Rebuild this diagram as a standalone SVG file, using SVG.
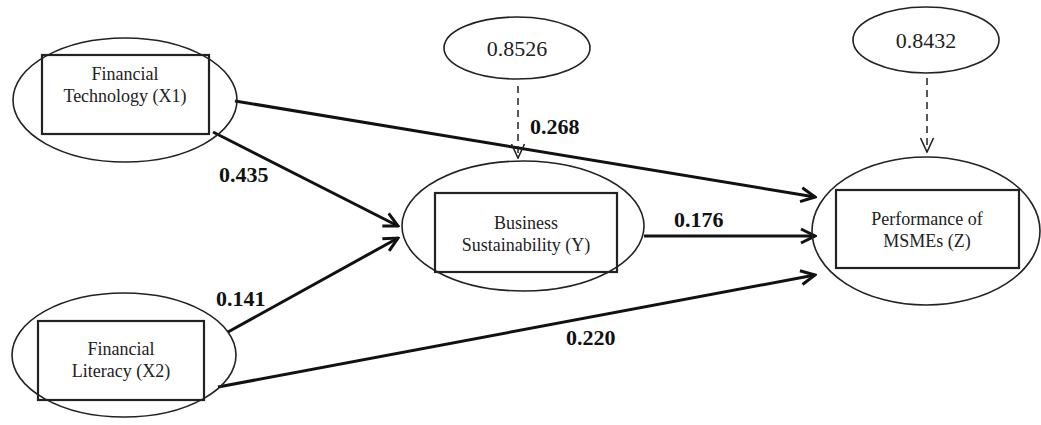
<svg xmlns="http://www.w3.org/2000/svg" width="1041" height="425" viewBox="0 0 1041 425">
<style>
.oval{fill:none;stroke:#222;stroke-width:1.6}
.box{fill:none;stroke:#222;stroke-width:2.2}
.t{font-family:"Liberation Serif",serif;font-size:18px;fill:#222;text-anchor:middle}
.e{font-family:"Liberation Serif",serif;font-size:22px;fill:#222;text-anchor:middle}
.w{font-family:"Liberation Serif",serif;font-size:22px;font-weight:bold;fill:#111}
.path{stroke:#111;stroke-width:3;fill:none;marker-end:url(#ah)}
.err{stroke:#222;stroke-width:1.5;fill:none;stroke-dasharray:7 5;marker-end:url(#ahd)}
</style>
<defs>
<marker id="ah" markerUnits="userSpaceOnUse" markerWidth="18" markerHeight="18" viewBox="0 0 18 18" refX="16" refY="9" orient="auto">
<path d="M2,2 L16,9 L2,16" fill="none" stroke="#111" stroke-width="3"/>
</marker>
<marker id="ahd" markerUnits="userSpaceOnUse" markerWidth="16" markerHeight="16" viewBox="0 0 16 16" refX="15" refY="8" orient="auto">
<path d="M1,1.5 L15,8 L1,14.5" fill="none" stroke="#222" stroke-width="1.6"/>
</marker>
</defs>
<g id="connectors">
<line class="path" x1="235" y1="101" x2="815" y2="197"/>
<line class="path" x1="213" y1="132" x2="398" y2="226"/>
<line class="path" x1="228" y1="332" x2="398" y2="238"/>
<line class="path" x1="218" y1="387" x2="815" y2="275"/>
<line class="path" x1="644" y1="236" x2="815" y2="236"/>
<line class="err" x1="518" y1="86" x2="518" y2="158"/>
<line class="err" x1="927" y1="78" x2="927" y2="152"/>
<text class="w" x="530" y="134">0.268</text>
<text class="w" x="219" y="182">0.435</text>
<text class="w" x="216" y="306">0.141</text>
<text class="w" x="674" y="227">0.176</text>
<text class="w" x="566" y="345">0.220</text>
</g>
<g id="X1">
<ellipse class="oval" cx="125" cy="100" rx="112" ry="62"/>
<rect class="box" x="42" y="55" width="167" height="79"/>
<text class="t" x="125" y="80">Financial</text>
<text class="t" x="125" y="102">Technology (X1)</text>
</g>
<g id="X2">
<ellipse class="oval" cx="124" cy="355" rx="112" ry="62"/>
<rect class="box" x="38" y="321" width="166" height="79"/>
<text class="t" x="121" y="355">Financial</text>
<text class="t" x="121" y="377">Literacy (X2)</text>
</g>
<g id="Y">
<ellipse class="oval" cx="523" cy="226" rx="121" ry="65"/>
<rect class="box" x="435" y="193" width="182" height="79"/>
<text class="t" x="526" y="229">Business</text>
<text class="t" x="526" y="251">Sustainability (Y)</text>
</g>
<g id="Z">
<ellipse class="oval" cx="926" cy="231" rx="114" ry="74"/>
<rect class="box" x="836" y="190" width="183" height="78"/>
<text class="t" x="927" y="225">Performance of</text>
<text class="t" x="927" y="247">MSMEs (Z)</text>
</g>
<g id="E1">
<ellipse class="oval" cx="517" cy="48" rx="73" ry="31"/>
<text class="e" x="517" y="56">0.8526</text>
</g>
<g id="E2">
<ellipse class="oval" cx="926" cy="40" rx="73" ry="33"/>
<text class="e" x="926" y="48">0.8432</text>
</g>
</svg>
